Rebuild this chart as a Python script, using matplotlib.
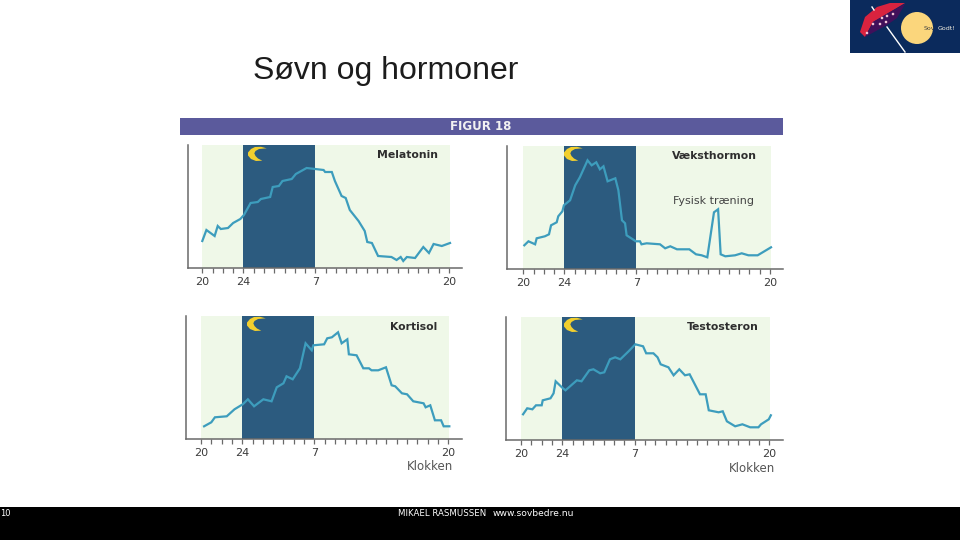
import numpy as np
import matplotlib
matplotlib.use('Agg')
import matplotlib.pyplot as plt
from matplotlib.patches import Polygon, Circle, Rectangle

# hours after 20:00, level = height above the axis
mel_hours = [0, 0.4, 1.2, 1.5, 1.8, 2.5, 3, 3.7, 4.05, 4.7, 5.4, 5.7, 6.6, 6.85, 7.45, 7.8, 8.7, 9.1, 10.15,
             11.8, 11.95, 12.6, 12.9, 13.55, 13.95, 14.35, 15.2, 15.8, 16.05, 16.5, 17.1, 18.4, 18.9, 19.3,
             19.55, 19.9, 20.7, 21.5, 22.05, 22.5, 23.3, 24.1]
mel_level = [27, 38, 32, 42, 39, 40, 45, 49, 53, 65, 66, 69, 71, 81, 82, 87, 89, 94, 100,
             98, 96, 96, 87, 72, 70, 58, 47, 37, 26, 25, 12, 11, 8, 11,
             7, 11, 10, 21, 15, 24, 22, 25]

gh_hours = [0.1, 0.5, 1.15, 1.3, 2.1, 2.5, 2.7, 3.25, 3.4, 3.8, 3.95, 4.55, 5.05, 5.5, 6.25, 6.65, 7.1, 7.45,
            7.8, 8.2, 8.95, 9.25, 9.6, 9.9, 10.05, 10.95, 11.35, 11.5, 12, 13.3, 13.8, 14.3, 14.95, 16.15,
            16.8, 17.35, 17.9, 18.55, 18.95, 19.2, 19.65, 20.6, 21.25, 21.9, 22.8, 24.1]
gh_level = [24, 28, 25, 31, 33, 35, 44, 47, 53, 58, 64, 69, 84, 92, 109, 104, 107, 100,
            103, 88, 91, 79, 49, 46, 34, 28, 28, 25, 26, 25, 21, 23, 20, 20,
            15, 14, 12, 57, 60, 15, 13, 14, 16, 14, 14, 22]

kort_hours = [0.3, 1, 1.35, 2.5, 3.25, 4.05, 4.55, 5.15, 6.05, 6.85, 7.35, 8, 8.3, 8.9, 9.6, 10.15, 10.75, 10.9,
              11.95, 12.25, 12.7, 13.3, 13.65, 14.2, 14.35, 15.1, 15.75, 16.3, 16.55, 17.2, 17.95, 18.5, 18.85,
              19.5, 20, 20.6, 21.6, 21.8, 22.25, 22.7, 23.3, 23.55, 24.1]
kort_level = [13, 17, 22, 23, 30, 35, 40, 33, 40, 38, 52, 56, 63, 60, 71, 96, 89, 94,
              95, 101, 102, 107, 96, 100, 85, 84, 71, 71, 69, 69, 72, 54, 53,
              46, 45, 38, 36, 32, 34, 19, 19, 13, 13]

test_hours = [0.2, 0.6, 1.1, 1.45, 2, 2.1, 2.85, 3.15, 3.35, 4.05, 4.3, 5.4, 5.85, 6.6, 7, 7.65, 8.05, 8.6, 9.1,
              9.6, 10.4, 11.05, 11.8, 12.1, 12.8, 13.2, 13.5, 14.25, 14.75, 15.3, 15.85, 16.3, 17.3, 17.85,
              18.15, 19.1, 19.5, 19.9, 20.7, 21.4, 22.15, 22.95, 23.2, 23.95, 24.15]
test_level = [26, 32, 31, 35, 35, 40, 42, 47, 59, 52, 50, 60, 59, 70, 71, 67, 68, 81, 83,
              81, 89, 96, 94, 87, 87, 83, 76, 73, 65, 71, 65, 66, 46, 46,
              30, 28, 29, 19, 14, 16, 13, 13, 16, 21, 25]

tick_pos = [0, 4, 11, 24]
tick_text = ['20', '24', '7', '20']

W, H = 960, 540
PALE = '#eff8e8'
NIGHT = '#2c5b7f'
LINE = '#3d9dbd'
AXIS = '#6a6a6a'
TEXT = '#3c3c3c'

fig = plt.figure(figsize=(9.6, 5.4), dpi=100, facecolor='white')
plt.rcParams['font.family'] = ['DejaVu Sans']


def add_panel(hours, level, x0, x20, spine, right, base, top, name, name_x, name_y):
    ax = fig.add_axes([spine / W, 1 - base / H, (right - spine) / W, (base - top) / H])
    hw = (x20 - x0) / 24
    ax.set_xlim((spine - x0) / hw, (right - x0) / hw)
    ax.set_ylim(0, base - top)
    ax.axvspan(0, 24.1, color=PALE, lw=0)
    ax.axvspan(4, 11, color=NIGHT, lw=0)
    ax.plot(hours, level, color=LINE, lw=1.6, solid_joinstyle='miter')
    ax.spines['top'].set_visible(False)
    ax.spines['right'].set_visible(False)
    ax.spines['left'].set_color(AXIS)
    ax.spines['bottom'].set_color(AXIS)
    ax.spines['left'].set_linewidth(1.1)
    ax.spines['bottom'].set_linewidth(1.1)
    ax.set_yticks([])
    ax.set_xticks(np.arange(25), minor=True)
    ax.set_xticks(tick_pos)
    ax.set_xticklabels(tick_text, fontsize=8, color=TEXT)
    ax.tick_params(axis='x', which='both', length=3.5, width=0.9, color=AXIS, pad=3)
    ax.patch.set_alpha(0)
    fig.text(name_x / W, 1 - name_y / H, name, fontsize=7.8, fontweight='bold', color='#2e2e2e',
             ha='center', va='center')
    return ax


add_panel(mel_hours, mel_level, 202.3, 449, 187.7, 462, 268, 145, 'Melatonin', 408, 155.5)
add_panel(gh_hours, gh_level, 523.3, 770, 506.7, 783, 269.3, 146, 'Væksthormon', 714.5, 156)
add_panel(kort_hours, kort_level, 201, 448.3, 186.3, 462, 439.3, 316, 'Kortisol', 413.5, 327)
add_panel(test_hours, test_level, 521, 769.3, 506, 783, 440.3, 316.7, 'Testosteron', 722.5, 327.5)

# overlay in picture pixels for the slide furniture
ov = fig.add_axes([0, 0, 1, 1], zorder=5)
ov.set_xlim(0, W)
ov.set_ylim(H, 0)
ov.axis('off')

ov.add_patch(Rectangle((180, 118), 603, 17, color='#5b5a9c', lw=0))
ov.text(481, 126.5, 'FIGUR 18', color='#f2f2f2', fontsize=8.5, fontweight='bold', ha='center', va='center')
ov.add_patch(Rectangle((0, 507), W, 33, color='black', lw=0))
ov.text(398, 514, 'MIKAEL RASMUSSEN', color='white', fontsize=6.2, ha='left', va='center')
ov.text(493, 514, 'www.sovbedre.nu', color='white', fontsize=6.6, ha='left', va='center')
ov.text(0, 514, '10', color='white', fontsize=6, ha='left', va='center')

ov.text(253, 71, 'Søvn og hormoner', fontsize=23, family='Liberation Sans', color='#1c1c1c', ha='left', va='center')
ov.text(713.5, 201, 'Fysisk træning', fontsize=8, color='#444444', ha='center', va='center')
ov.text(430.5, 467, 'Klokken', fontsize=8.5, color='#555555', ha='center', va='center')
ov.text(752, 468, 'Klokken', fontsize=8.5, color='#555555', ha='center', va='center')

# crescent moons, open towards the upper right
moon = np.array([(11.7, -5.7), (6, -7.2), (0, -7), (-4, -5), (-7, -1.5), (-7, 1.5), (-4, 5), (1, 7), (7.3, 6.7),
                 (3, 4.5), (0.5, 2), (-0.7, -0.7), (0.5, -3), (4, -5)])
for cx, cy in [(255, 154), (571, 154), (254, 324), (571, 325)]:
    ov.add_patch(Polygon(moon + [cx, cy], color='#f2cf2e', lw=0))

# logo
ov.add_patch(Rectangle((850, 0), 110, 53, color='#0b2a5c', lw=0))
ov.add_patch(Circle((917, 28), 16, color='#fbd67c', lw=0))
ov.add_patch(Polygon([(860, 32), (865, 17), (877, 7), (890, 3), (905, 3), (890, 12), (873, 22), (865, 37)],
                     color='#d9233f', lw=0))
ov.add_patch(Polygon([(865, 37), (873, 22), (890, 12), (905, 4), (897, 18), (887, 25)],
                     color='#41105a', lw=0))
for dx, dy in [(893, 14), (887, 16), (882, 18), (886, 22), (880, 24), (873, 24), (867, 33)]:
    ov.add_patch(Circle((dx, dy), 1.3, color='#f4c8d8', lw=0))
ov.plot([887, 905], [27, 52], color='white', lw=1)
ov.plot([872, 874], [7, 10], color='white', lw=1)
ov.text(924, 29, 'Sov', fontsize=4.5, color='#444444', ha='left', va='center')
ov.text(938, 29, 'Godt!', fontsize=4.5, color='#f5f0e0', ha='left', va='center')

fig.savefig('out.png', dpi=100)
